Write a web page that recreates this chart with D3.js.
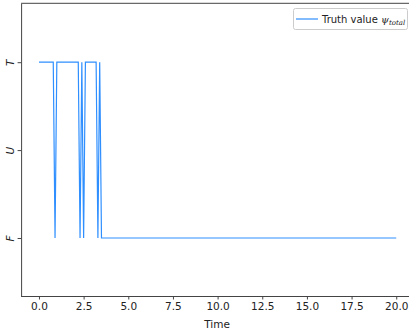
<!DOCTYPE html>
<html><head><meta charset="utf-8">
<script src="https://cdn.jsdelivr.net/npm/d3@7"></script>
<style>body{margin:0;background:#fff}svg{display:block;font-family:"DejaVu Sans",sans-serif}</style>
</head><body>
<script>
const times  = [0, 0.8, 0.9, 1.0, 2.2, 2.3, 2.4, 2.5, 2.6, 3.2, 3.3, 3.4, 3.5, 20];
const states = ["T","T","F","T","T","F","T","F","T","T","F","T","F","F"];
const stateLevels = ["F","U","T"];
const xTicks = [0, 2.5, 5, 7.5, 10, 12.5, 15, 17.5, 20];
const seriesName = "Truth value";

(function(){
const W = 409, H = 335;
const svg = d3.select("body").append("svg").attr("width", W).attr("height", H);
const mLeft = 21.1, mTop = 3.3, mBottom = 296;
const x = d3.scaleLinear().domain([-1, 21]).range([mLeft, mLeft + 393]);
const y = d3.scaleLinear().domain([-0.66, 2.67]).range([mBottom, mTop]);
const level = s => stateLevels.indexOf(s);

svg.append("defs").append("clipPath").attr("id","c").append("rect")
  .attr("x", mLeft).attr("y", mTop).attr("width", W).attr("height", mBottom-mTop);

const data = times.map((t,i)=>({t, v: level(states[i])}));
svg.append("path").datum(data).attr("clip-path","url(#c)")
  .attr("fill","none").attr("stroke","#2f8fff").attr("stroke-width",1.2)
  .attr("d", d3.line().x(d=>x(d.t)).y(d=>y(d.v)));

const xa = svg.append("g").attr("transform",`translate(0,${mBottom})`)
  .call(d3.axisBottom(x).tickValues(xTicks).tickFormat(d3.format(".1f")).tickSizeOuter(0).tickSize(3.5).tickPadding(3.5));
xa.select(".domain").attr("stroke","#444").attr("d",`M${mLeft},0.5H${W}`);
xa.selectAll(".tick line").attr("stroke","#444");
xa.selectAll("text").attr("font-size","10.5px").attr("fill","#222").attr("font-family","DejaVu Sans");

const ya = svg.append("g").attr("transform",`translate(${mLeft},0)`)
  .call(d3.axisLeft(y).tickValues([0,1,2]).tickFormat(d=>stateLevels[d]).tickSize(3.5).tickSizeOuter(0));
ya.select(".domain").attr("stroke","#444");
ya.selectAll(".tick line").attr("stroke","#444");
ya.selectAll(".tick text").attr("x",null).attr("dy",null)
  .attr("transform","translate(-7,0) rotate(-90)")
  .attr("text-anchor","middle")
  .attr("font-size","10.5px").attr("font-style","italic").attr("fill","#222").attr("font-family","DejaVu Sans");

svg.append("line").attr("x1",mLeft).attr("x2",W).attr("y1",mTop).attr("y2",mTop).attr("stroke","#444");

svg.append("text").attr("x", 217).attr("y", 328).attr("text-anchor","middle")
  .attr("font-size","10.5px").attr("fill","#222").text("Time");

const lg = svg.append("g");
lg.append("rect").attr("x",293.5).attr("y",8.5).attr("width",114).attr("height",21).attr("rx",2)
  .attr("fill","#fff").attr("stroke","#ccc");
lg.append("line").attr("x1",296).attr("x2",318).attr("y1",19).attr("y2",19).attr("stroke","#2f8fff").attr("stroke-width",1.2);
const lt = lg.append("text").attr("x",322).attr("y",23).attr("font-size","10px").attr("fill","#222");
lt.append("tspan").text(seriesName + " ");
lt.append("tspan").attr("font-style","italic").attr("font-family","DejaVu Serif").text("ψ");
lt.append("tspan").attr("font-style","italic").attr("font-family","DejaVu Serif").attr("font-size","7px").attr("dy",2).text("total");
})();
</script>
</body></html>
